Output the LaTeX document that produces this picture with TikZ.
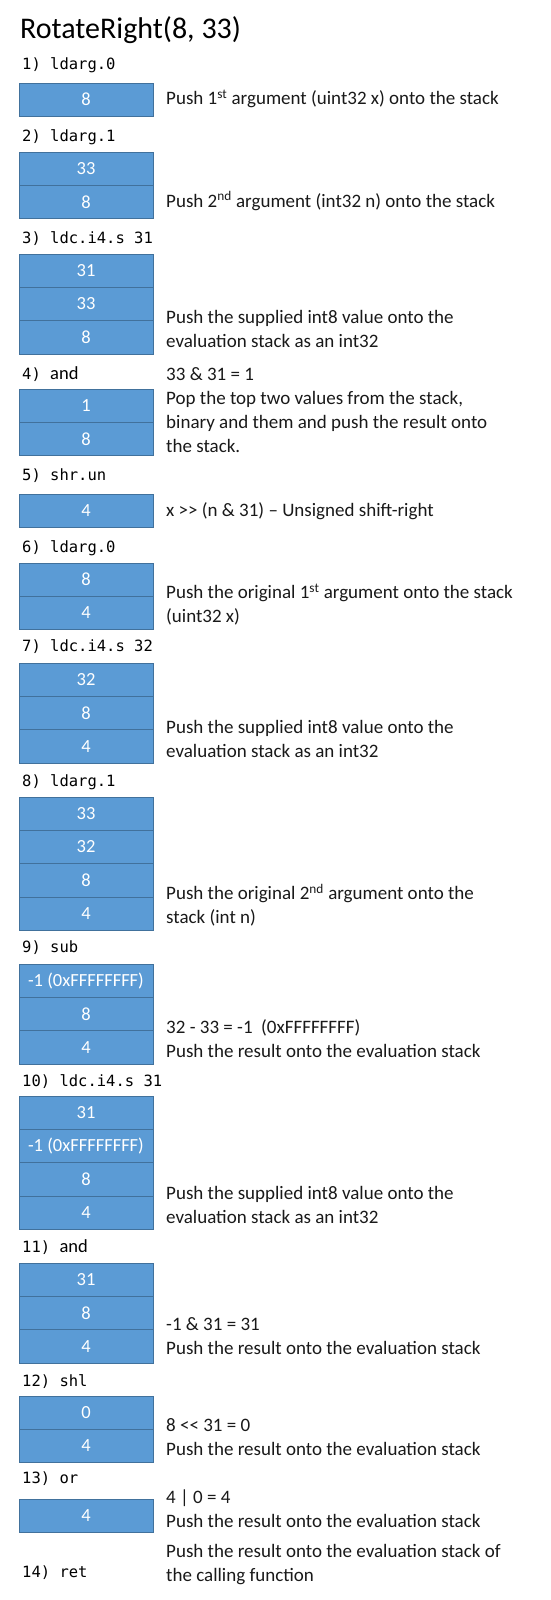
\documentclass[tikz,border=0pt]{standalone}
\usepackage{fontspec}
\setmainfont{Carlito}
\setmonofont{DejaVu Sans Mono}
\usepackage{xcolor}
\usetikzlibrary{positioning}
\definecolor{cellblue}{HTML}{5B9BD5}
\definecolor{celledge}{HTML}{41719C}

\begin{document}
\begin{tikzpicture}[
    x=1pt, y=-1pt,
    node distance=0pt,
    cell/.style={rectangle, draw=celledge, fill=cellblue, text=white, line width=0.6pt,
        minimum width=134pt, minimum height=33.3pt, inner sep=0pt, outer sep=0pt,
        font=\fontsize{18.5}{20}\selectfont},
    oplabel/.style={anchor=west, inner sep=0pt, font=\ttfamily\fontsize{15.5}{18}\selectfont},
    note/.style={anchor=west, inner sep=0pt, align=left, text=black!90,
        font=\fontsize{19}{24}\selectfont}
]
    \useasboundingbox (0,0) rectangle (550,1600);

    \node[anchor=west, inner sep=0pt, font=\fontsize{30}{32}\selectfont] (title) at (20,30) {RotateRight(8, 33)};

    % 1) ldarg.0
    \node[oplabel] (op1) at (22,65) {1) ldarg.0};
    \node[cell, anchor=north west] (s1a) at (19,83) {8};
    \node[note] (n1) at (166,99) {Push 1\textsuperscript{st} argument (uint32 x) onto the stack};

    % 2) ldarg.1
    \node[oplabel] (op2) at (22,137) {2) ldarg.1};
    \node[cell, anchor=north west] (s2a) at (19,152) {33};
    \node[cell, below=of s2a] (s2b) {8};
    \node[note] (n2) at (166,201) {Push 2\textsuperscript{nd} argument (int32 n) onto the stack};

    % 3) ldc.i4.s 31
    \node[oplabel] (op3) at (22,239) {3) ldc.i4.s 31};
    \node[cell, anchor=north west] (s3a) at (19,254) {31};
    \node[cell, below=of s3a] (s3b) {33};
    \node[cell, below=of s3b] (s3c) {8};
    \node[note] (n3) at (166,329) {Push the supplied int8 value onto the\\evaluation stack as an int32};

    % 4) and
    \node[oplabel] (op4) at (22,374) {4)\ {\rmfamily\fontsize{18.5}{20}\selectfont and}};
    \node[cell, anchor=north west] (s4a) at (19,389) {1};
    \node[cell, below=of s4a] (s4b) {8};
    \node[note] (n4) at (166,410.5) {33 \& 31 = 1\\Pop the top two values from the stack,\\binary and them and push the result onto\\the stack.};

    % 5) shr.un
    \node[oplabel] (op5) at (22,476) {5) shr.un};
    \node[cell, anchor=north west] (s5a) at (19,494) {4};
    \node[note] (n5) at (166,511) {x >{}> (n \& 31) – Unsigned shift-right};

    % 6) ldarg.0
    \node[oplabel] (op6) at (22,548) {6) ldarg.0};
    \node[cell, anchor=north west] (s6a) at (19,563) {8};
    \node[cell, below=of s6a] (s6b) {4};
    \node[note] (n6) at (166,604.5) {Push the original 1\textsuperscript{st} argument onto the stack\\(uint32 x)};

    % 7) ldc.i4.s 32
    \node[oplabel] (op7) at (22,647) {7) ldc.i4.s 32};
    \node[cell, anchor=north west] (s7a) at (19,663) {32};
    \node[cell, below=of s7a] (s7b) {8};
    \node[cell, below=of s7b] (s7c) {4};
    \node[note] (n7) at (166,738.5) {Push the supplied int8 value onto the\\evaluation stack as an int32};

    % 8) ldarg.1
    \node[oplabel] (op8) at (22,782) {8) ldarg.1};
    \node[cell, anchor=north west] (s8a) at (19,797) {33};
    \node[cell, below=of s8a] (s8b) {32};
    \node[cell, below=of s8b] (s8c) {8};
    \node[cell, below=of s8c] (s8d) {4};
    \node[note] (n8) at (166,905) {Push the original 2\textsuperscript{nd} argument onto the\\stack (int n)};

    % 9) sub
    \node[oplabel] (op9) at (22,948) {9) sub};
    \node[cell, anchor=north west] (s9a) at (19,964) {-1 (0xFFFFFFFF)};
    \node[cell, below=of s9a] (s9b) {8};
    \node[cell, below=of s9b] (s9c) {4};
    \node[note] (n9) at (166,1039) {32 - 33 = -1\ \ (0xFFFFFFFF)\\Push the result onto the evaluation stack};

    % 10) ldc.i4.s 31
    \node[oplabel] (op10) at (22,1082) {10) ldc.i4.s 31};
    \node[cell, anchor=north west] (s10a) at (19,1096) {31};
    \node[cell, below=of s10a] (s10b) {-1 (0xFFFFFFFF)};
    \node[cell, below=of s10b] (s10c) {8};
    \node[cell, below=of s10c] (s10d) {4};
    \node[note] (n10) at (166,1205) {Push the supplied int8 value onto the\\evaluation stack as an int32};

    % 11) and
    \node[oplabel] (op11) at (22,1247) {11)\ {\rmfamily\fontsize{18.5}{20}\selectfont and}};
    \node[cell, anchor=north west] (s11a) at (19,1263) {31};
    \node[cell, below=of s11a] (s11b) {8};
    \node[cell, below=of s11b] (s11c) {4};
    \node[note] (n11) at (166,1336.5) {-1 \& 31 = 31\\Push the result onto the evaluation stack};

    % 12) shl
    \node[oplabel] (op12) at (22,1382) {12) shl};
    \node[cell, anchor=north west] (s12a) at (19,1396) {0};
    \node[cell, below=of s12a] (s12b) {4};
    \node[note] (n12) at (166,1437) {8 <{}< 31 = 0\\Push the result onto the evaluation stack};

    % 13) or
    \node[oplabel] (op13) at (22,1479) {13) or};
    \node[cell, anchor=north west] (s13a) at (19,1499) {4};
    \node[note] (n13) at (166,1509) {4 | 0 = 4\\Push the result onto the evaluation stack};

    % 14) ret
    \node[oplabel] (op14) at (22,1573) {14) ret};
    \node[note] (n14) at (166,1564.5) {Push the result onto the evaluation stack of\\the calling function};
\end{tikzpicture}
\end{document}
